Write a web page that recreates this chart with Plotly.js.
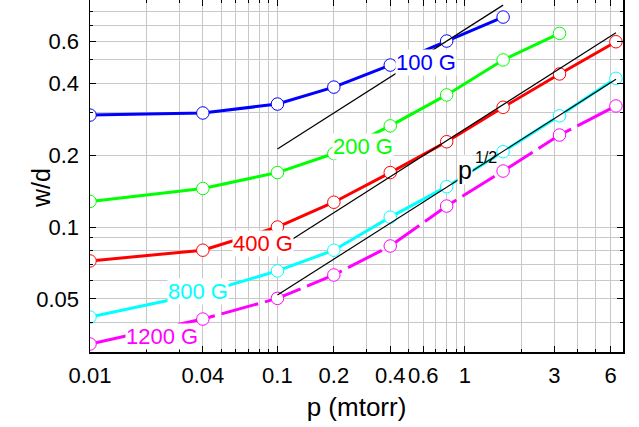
<!DOCTYPE html>
<html>
<head>
<meta charset="utf-8">
<script src="https://cdn.plot.ly/plotly-3.0.1.min.js"></script>
<style>html,body{margin:0;padding:0;background:#fff;}#chart{width:639px;height:427px;}</style>
</head>
<body>
<div id="chart"></div>
<script>
// ---- data ----
const pressure = [0.01, 0.04, 0.1, 0.2, 0.4, 0.8, 1.6, 3.2, 6.4];
const w100  = [0.294, 0.300, 0.327, 0.385, 0.476, 0.600, 0.756];
const w200  = [0.128, 0.145, 0.169, 0.203, 0.265, 0.357, 0.500, 0.646];
const w400  = [0.0721, 0.080, 0.100, 0.127, 0.169, 0.2275, 0.317, 0.437, 0.596];
const w800  = [0.042, 0.053, 0.0655, 0.080, 0.110, 0.1475, 0.2066, 0.292, 0.419];
const w1200 = [0.0324, 0.0412, 0.0503, 0.063, 0.0833, 0.1224, 0.1715, 0.2426, 0.321];

// p^1/2 guide lines (end points)
const guideA_x = [0.1, 1.6], guideA_y = [0.212, 0.848];
const guideB_x = [0.1, 6.4], guideB_y = [0.0812, 0.650];
const guideC_x = [0.1, 6.4], guideC_y = [0.0519, 0.415];

const seriesNames = ['100 G', '200 G', '400 G', '800 G', '1200 G'];
const xTickVals = [0.01, 0.04, 0.1, 0.2, 0.4, 0.6, 1, 3, 6];
const xTickText = ['0.01', '0.04', '0.1', '0.2', '0.4', '0.6', '1', '3', '6'];
const yTickVals = [0.05, 0.1, 0.2, 0.4, 0.6];
const yTickText = ['0.05', '0.1', '0.2', '0.4', '0.6'];
const xMinor = [0.02,0.03,0.05,0.06,0.07,0.08,0.09,0.3,0.5,0.7,0.8,0.9,2,4,5,7];
const yMinor = [0.03,0.04,0.06,0.07,0.08,0.09,0.3,0.5,0.7,0.8];

// ---- styling ----
const colors = ['#0000ff', '#00ff00', '#ff0000', '#00ffff', '#ff00ff'];
const values = [w100, w200, w400, w800, w1200];
const FONT = 'Liberation Sans, Arial, sans-serif';

const traces = values.map((v, i) => ({
  type: 'scatter', mode: 'lines+markers', name: seriesNames[i],
  x: pressure.slice(0, v.length), y: v,
  line: {color: colors[i], width: 3, dash: i === 4 ? '38px,7px' : 'solid'},
  marker: {symbol: 'circle', size: 12.5, color: '#ffffff', line: {color: colors[i], width: 1}},
  showlegend: false
}));
[[guideA_x, guideA_y], [guideB_x, guideB_y], [guideC_x, guideC_y]].forEach(g => {
  traces.push({type: 'scatter', mode: 'lines', x: g[0], y: g[1],
    line: {color: '#000000', width: 1.2}, showlegend: false, hoverinfo: 'skip'});
});

// label positions (data units)
const labelPos = [[0.619, 0.490], [0.286, 0.218], [0.0837, 0.0857], [0.0377, 0.0535], [0.0242, 0.0347]];
const annotations = labelPos.map((p, i) => ({
  x: Math.log10(p[0]), y: Math.log10(p[1]), xref: 'x', yref: 'y',
  text: seriesNames[i], showarrow: false, bgcolor: '#ffffff', borderpad: 0,
  font: {family: FONT, size: 22, color: colors[i]}
}));
annotations.push({x: Math.log10(1.0), y: Math.log10(0.174), xref: 'x', yref: 'y',
  text: 'p', showarrow: false, bgcolor: '#ffffff', borderpad: 0,
  font: {family: FONT, size: 25, color: '#000'}});
annotations.push({x: Math.log10(1.29), y: Math.log10(0.196), xref: 'x', yref: 'y',
  text: '1/2', showarrow: false,
  font: {family: FONT, size: 16, color: '#000'}});
// y axis title
annotations.push({x: -0.122, y: 0.466, xref: 'paper', yref: 'paper', textangle: -90,
  text: 'w/d', showarrow: false, font: {family: FONT, size: 25, color: '#000'}});

const axisCommon = {
  type: 'log', showline: true, linecolor: '#000', linewidth: 1.5, mirror: 'ticks',
  ticks: 'inside', ticklen: 6, tickwidth: 1, tickcolor: '#000',
  showgrid: true, gridcolor: '#c8c8c8', gridwidth: 1, zeroline: false,
  tickfont: {family: FONT, size: 22, color: '#000'}
};

const layout = {
  width: 639, height: 427,
  margin: {l: 90, r: 16, t: 0, b: 75},
  paper_bgcolor: '#fff', plot_bgcolor: '#fff',
  xaxis: Object.assign({}, axisCommon, {
    range: [Math.log10(0.01), Math.log10(6.98)],
    tickmode: 'array', tickvals: xTickVals, ticktext: xTickText,
    ticklabelstandoff: 3,
    minor: {tickmode: 'array', tickvals: xMinor, ticks: 'inside', ticklen: 3, tickcolor: '#000',
            showgrid: true, gridcolor: '#c8c8c8', gridwidth: 1},
    title: {text: 'p (mtorr)', font: {family: FONT, size: 26, color: '#000'}, standoff: 11}
  }),
  yaxis: Object.assign({}, axisCommon, {
    range: [Math.log10(0.03), Math.log10(0.891)],
    tickmode: 'array', tickvals: yTickVals, ticktext: yTickText,
    ticklabelstandoff: 5,
    minor: {tickmode: 'array', tickvals: yMinor, ticks: 'inside', ticklen: 3, tickcolor: '#000',
            showgrid: true, gridcolor: '#c8c8c8', gridwidth: 1}
  }),
  annotations: annotations
};

Plotly.newPlot('chart', traces, layout, {displayModeBar: false, staticPlot: true});
</script>
</body>
</html>
